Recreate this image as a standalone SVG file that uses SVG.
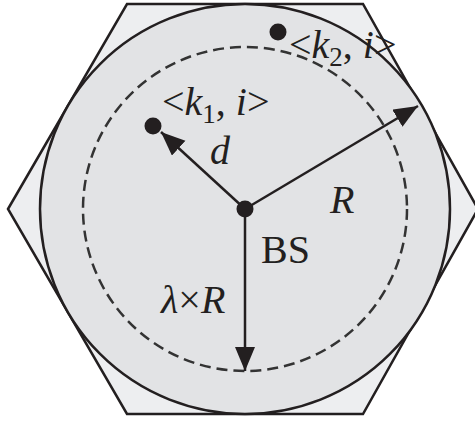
<svg xmlns="http://www.w3.org/2000/svg" width="475" height="421" viewBox="0 0 475 421">
<defs>
<style>
.ln{stroke:#231f20;stroke-width:2.5;fill:none}
.dash{stroke:#333;stroke-width:2.5;fill:none;stroke-dasharray:11 6}
.dot{fill:#231f20}
.t{font-family:"Liberation Serif","Times New Roman",serif;font-size:40px;fill:#231f20}
.it{font-style:italic}
</style>
<marker id="ah" markerUnits="userSpaceOnUse" markerWidth="26" markerHeight="22" refX="24" refY="10" orient="auto" viewBox="0 0 26 22">
<path d="M0,0 L24,10 L0,20 Z" fill="#231f20"/>
</marker>
</defs>
<g id="cell">
<polygon points="8,209 127,4 363,4 478,209 363,414 127,414" fill="#edeef0" stroke="#231f20" stroke-width="2.5"/>
<circle cx="245" cy="209" r="205" fill="#e2e3e5" stroke="#231f20" stroke-width="2.5"/>
<circle class="dash" cx="245" cy="209" r="162"/>
</g>
<g id="connectors">
<line class="ln" x1="245" y1="209" x2="161" y2="132" marker-end="url(#ah)"/>
<line class="ln" x1="245" y1="209" x2="418" y2="106" marker-end="url(#ah)"/>
<line class="ln" x1="245" y1="209" x2="245" y2="371" marker-end="url(#ah)"/>
</g>
<g id="bs">
<circle class="dot" cx="245" cy="209" r="8.5"/>
<text class="t" x="261" y="263">BS</text>
</g>
<g id="user1">
<circle class="dot" cx="153" cy="126" r="8.5"/>
<text class="t" x="162" y="115">&lt;<tspan class="it">k</tspan><tspan font-size="27" dy="8">1</tspan><tspan dy="-8">, </tspan><tspan class="it">i</tspan>&gt;</text>
</g>
<g id="user2">
<circle class="dot" cx="278" cy="32" r="8.5"/>
<text class="t" x="289" y="58">&lt;<tspan class="it">k</tspan><tspan font-size="27" dy="8">2</tspan><tspan dy="-8">, </tspan><tspan class="it">i</tspan>&gt;</text>
</g>
<g id="labels">
<text class="t it" x="210" y="164">d</text>
<text class="t it" x="330" y="213">R</text>
<text class="t" x="161" y="313"><tspan class="it">λ</tspan>×<tspan class="it">R</tspan></text>
</g>
</svg>
